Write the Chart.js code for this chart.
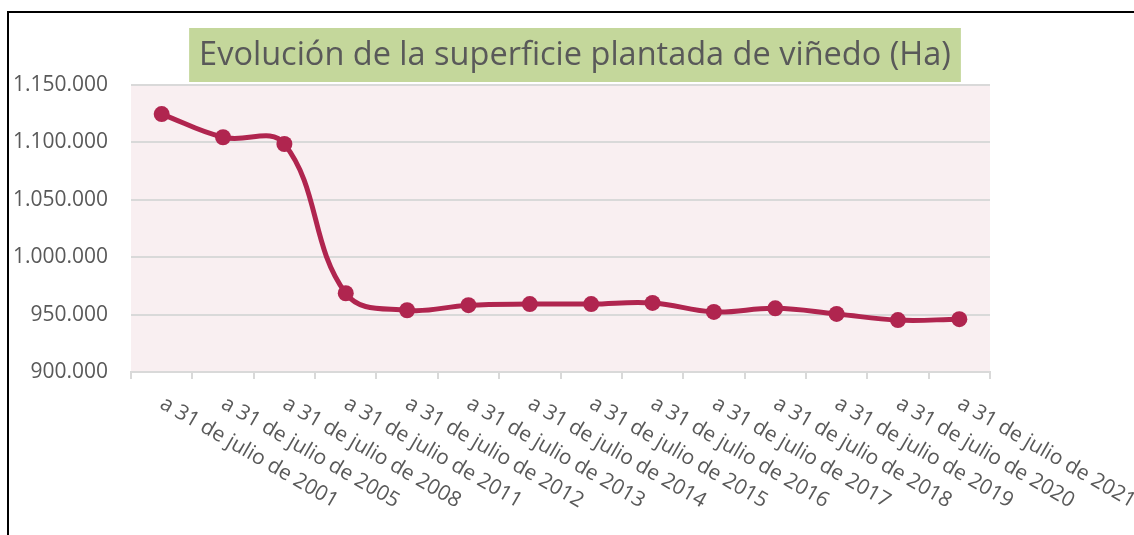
<!DOCTYPE html>
<html>
<head>
<meta charset="utf-8">
<script src="https://cdn.jsdelivr.net/npm/chart.js@4.4.1/dist/chart.umd.min.js"></script>
<style>
    html, body { margin: 0; padding: 0; background: #ffffff; overflow: hidden; }
    #frame {
        position: absolute;
        left: 7px;
        top: 11px;
        width: 1200px;
        height: 600px;
        border-left: 2px solid #000000;
        border-top: 2px solid #000000;
    }
    #wrap { position: absolute; left: 0; top: 0; width: 1134px; height: 535px; }
</style>
</head>
<body>
<div id="frame"></div>
<div id="wrap"><canvas id="vineyard-chart"></canvas></div>
<script>
// Data
const chartTitle = "Evolución de la superficie plantada de viñedo (Ha)";
const years = [2001, 2005, 2008, 2011, 2012, 2013, 2014, 2015, 2016, 2017, 2018, 2019, 2020, 2021];
const categories = years.map((y) => `a 31 de julio de ${y}`);
const hectares = [
    1124700, 1104500, 1098600, 968600, 953800, 958200, 959200,
    959200, 960200, 952300, 955500, 950600, 945200, 946000,
];
const yMin = 900000;
const yMax = 1150000;
const yStep = 50000;

const textColor = "#595959";
const gridColor = "#d9d9d9";
const lineColor = "#b0254f";

// 1150000 -> "1.150.000"
const formatThousands = (value) =>
    String(Math.round(value)).replace(/\B(?=(\d{3})+(?!\d))/g, ".");

// pink plot background
const plotBackground = {
    id: "plotBackground",
    beforeDraw(chart) {
        const { ctx, chartArea } = chart;
        ctx.save();
        ctx.fillStyle = "#f9eff1";
        ctx.fillRect(chartArea.left, chartArea.top,
            chartArea.right - chartArea.left, chartArea.bottom - chartArea.top);
        ctx.restore();
    },
};

// title inside a green box
const boxedTitle = {
    id: "boxedTitle",
    afterDraw(chart) {
        const { ctx } = chart;
        ctx.save();
        let size = 34;
        ctx.font = `${size}px "Open Sans"`;
        const w = ctx.measureText(chartTitle).width;
        size = size * 752 / w;
        ctx.font = `${size}px "Open Sans"`;
        const tw = ctx.measureText(chartTitle).width;
        const cx = 575;
        ctx.fillStyle = "#c4d79b";
        ctx.fillRect(cx - tw / 2 - 10, 28, tw + 20, 54);
        ctx.fillStyle = textColor;
        ctx.textAlign = "center";
        ctx.textBaseline = "middle";
        ctx.fillText(chartTitle, cx, 56);
        ctx.restore();
    },
};

// slanted category labels, reading downwards to the right
const slantedLabels = {
    id: "slantedLabels",
    afterDraw(chart) {
        const { ctx } = chart;
        const xScale = chart.scales.x;
        ctx.save();
        ctx.font = '21px "Open Sans"';
        ctx.fillStyle = textColor;
        ctx.textAlign = "left";
        ctx.textBaseline = "middle";
        categories.forEach((label, i) => {
            const x = xScale.getPixelForValue(i);
            ctx.save();
            ctx.translate(x, xScale.top + 30);
            ctx.rotate(Math.PI / 6);
            ctx.fillText(label, 0, 0);
            ctx.restore();
        });
        ctx.restore();
    },
};

const ctx = document.getElementById("vineyard-chart");

new Chart(ctx, {
    type: "line",
    data: {
        labels: categories,
        datasets: [
            {
                label: "Superficie (Ha)",
                data: hectares,
                borderColor: lineColor,
                backgroundColor: lineColor,
                borderWidth: 5,
                tension: 0.4,
                cubicInterpolationMode: "default",
                pointRadius: 8,
                pointBackgroundColor: lineColor,
                pointBorderColor: lineColor,
                pointBorderWidth: 0,
                clip: false,
            },
        ],
    },
    options: {
        responsive: true,
        maintainAspectRatio: false,
        animation: false,
        layout: {
            padding: { top: 85, right: 144, bottom: 0, left: 0 },
        },
        scales: {
            x: {
                offset: true,
                afterFit: (scale) => {
                    scale.height = 163;
                },
                border: { display: true, color: gridColor, width: 2 },
                grid: {
                    offset: true,
                    drawOnChartArea: false,
                    drawTicks: true,
                    tickLength: 7,
                    color: gridColor,
                    lineWidth: 2,
                },
                ticks: { display: false },
            },
            y: {
                min: yMin,
                max: yMax,
                afterFit: (scale) => {
                    scale.width = 131;
                },
                border: { display: false },
                grid: {
                    color: gridColor,
                    lineWidth: 2,
                    drawTicks: false,
                },
                ticks: {
                    stepSize: yStep,
                    padding: 23,
                    color: textColor,
                    font: { family: "Open Sans", size: 21 },
                    callback: (value) => formatThousands(value),
                },
            },
        },
        plugins: {
            legend: { display: false },
            title: { display: false },
            tooltip: { enabled: false },
        },
    },
    plugins: [plotBackground, boxedTitle, slantedLabels],
});
</script>
</body>
</html>
